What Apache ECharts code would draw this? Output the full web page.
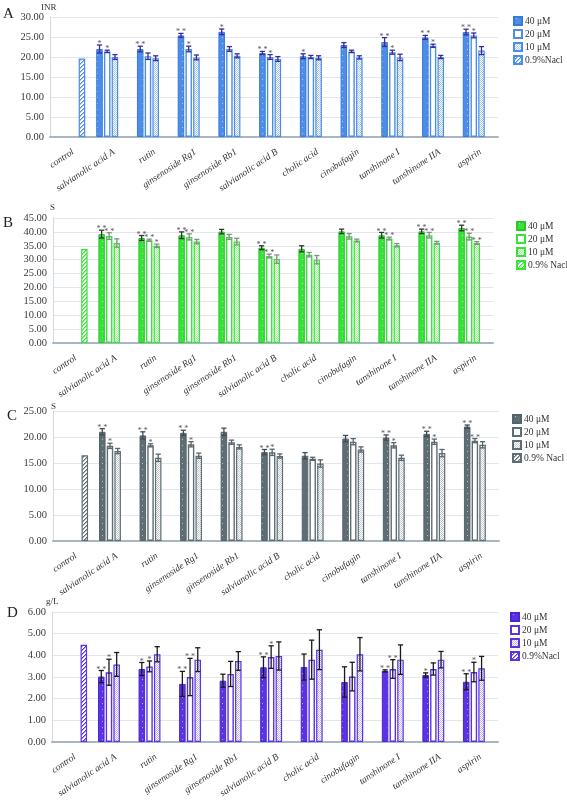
<!DOCTYPE html>
<html><head><meta charset="utf-8">
<script src="https://cdn.jsdelivr.net/npm/echarts@6/dist/echarts.min.js"></script>
<style>html,body{margin:0;padding:0;background:#fff}#c{width:567px;height:801px}</style>
</head><body><div id="c"></div>
<script>
const categories = ['control','salvianolic acid A','rutin','ginsenoside Rg1','ginsenoside Rb1','salvianolic acid B','cholic acid','cinobufagin','tanshinone I','tanshinone IIA','aspirin'];

// Panel A (INR)
const aMean40 = [null,22.0,22.0,25.4,26.3,21.0,20.2,23.0,23.75,24.9,26.25];
const aMean20 = [null,21.4,20.2,22.0,22.0,20.0,20.0,21.4,21.2,22.8,25.4];
const aMean10 = [null,20.0,19.7,19.9,20.3,19.5,19.8,19.9,19.9,20.0,21.6];
const aNacl   = [19.6,null,null,null,null,null,null,null,null,null,null];
const aErr40 = [null,1.0,0.7,0.5,0.7,0.4,0.6,0.6,1.1,0.5,0.7];
const aErr20 = [null,0.3,0.8,0.7,0.6,0.6,0.4,0.3,0.5,0.4,0.6];
const aErr10 = [null,0.6,0.6,0.6,0.5,0.6,0.5,0.4,0.8,0.4,1.0];
const aSig40 = ['','*','**','**','*','**','*','','**','**','**'];
const aSig20 = ['','*','','*','','*','','','*','*','*'];
const aSig10 = ['','','','','','','','','','',''];

// Panel B (S)
const bMean40 = [null,39.2,37.8,38.8,40.1,34.3,33.9,40.2,38.8,40.2,41.4];
const bMean20 = [null,38.5,37.0,38.2,38.2,31.3,31.8,38.4,37.6,38.8,38.3];
const bMean10 = [null,36.0,35.0,36.5,36.5,30.2,30.0,36.9,35.2,36.1,36.0];
const bNacl   = [33.8,null,null,null,null,null,null,null,null,null,null];
const bErr40 = [null,1.4,0.9,1.2,0.8,0.7,1.1,0.8,1.0,0.8,1.0];
const bErr20 = [null,1.2,0.4,1.1,0.9,0.7,0.8,1.0,0.5,1.0,1.2];
const bErr10 = [null,1.5,0.6,0.8,1.2,1.5,1.5,0.5,0.6,0.5,0.5];
const bSig40 = ['','**','**','**','','**','','','**','**','**'];
const bSig20 = ['','**','**','**','','**','','','**','**','**'];
const bSig10 = ['','','*','','','','','','','','**'];

// Panel C (S)
const cMean40 = [null,21.0,20.3,20.8,21.0,17.1,16.4,19.7,19.9,20.6,22.0];
const cMean20 = [null,18.3,18.4,18.6,19.0,17.05,15.8,19.1,18.4,19.1,19.3];
const cMean10 = [null,17.3,16.0,16.4,18.1,16.35,14.9,17.6,16.0,16.9,18.5];
const cNacl   = [16.5,null,null,null,null,null,null,null,null,null,null];
const cErr40 = [null,0.6,0.7,0.5,0.7,0.5,0.6,0.6,0.5,0.5,0.3];
const cErr20 = [null,0.5,0.3,0.5,0.4,0.6,0.3,0.6,0.5,0.5,0.4];
const cErr10 = [null,0.5,0.7,0.5,0.4,0.4,0.7,0.5,0.5,0.7,0.6];
const cSig40 = ['','**','**','**','','**','','','**','**','**'];
const cSig20 = ['','*','*','*','','*','','','*','*','**'];
const cSig10 = ['','','','','','','','','','',''];

// Panel D (g/L)
const dMean40 = [null,3.02,3.37,2.68,2.83,3.45,3.46,2.77,3.28,3.09,2.78];
const dMean20 = [null,3.22,3.49,3.00,3.14,3.92,3.80,3.02,3.37,3.37,3.23];
const dMean10 = [null,3.58,4.05,3.80,3.74,3.97,4.26,4.05,3.80,3.80,3.40];
const dNacl   = [4.49,null,null,null,null,null,null,null,null,null,null];
const dErr40 = [null,0.28,0.30,0.58,0.30,0.48,0.60,0.70,0.05,0.10,0.37];
const dErr20 = [null,0.60,0.25,0.86,0.58,0.52,0.90,0.66,0.43,0.28,0.45];
const dErr10 = [null,0.55,0.35,0.55,0.43,0.65,0.92,0.77,0.68,0.38,0.55];
const dSig40 = ['','**','*','**','','**','','','**','*','**'];
const dSig20 = ['','*','*','**','','*','','','**','','*'];
const dSig10 = ['','','','','','','','','','',''];

const legendA = ['40 μM','20 μM','10 μM','0.9%Nacl'];
const legendB = ['40 μM','20 μM','10 μM','0.9% Nacl'];
const legendC = ['40 μM','20 μM','10 μM','0.9% Nacl'];
const legendD = ['40 μM','20 μM','10 μM','0.9%Nacl'];

const BCG = 0.27, BG = 0.18;
const SERIF = '"Liberation Serif","DejaVu Serif",serif';

function pattern(type, fg, bg) {
  const c = document.createElement('canvas');
  let w = 4, h = 4;
  if (type === 'dots') { w = 5; h = 6; }
  c.width = w; c.height = h;
  const g = c.getContext('2d');
  g.fillStyle = bg; g.fillRect(0, 0, w, h);
  g.fillStyle = fg;
  if (type === 'dots') {
    g.fillRect(2, 1, 1, 1);
  } else if (type === 'checker') {
    g.fillRect(0, 0, 1, 1); g.fillRect(2, 0, 1, 1);
    g.fillRect(1, 1, 1, 1); g.fillRect(3, 1, 1, 1);
    g.fillRect(0, 2, 1, 1); g.fillRect(2, 2, 1, 1);
    g.fillRect(1, 3, 1, 1); g.fillRect(3, 3, 1, 1);
  } else if (type === 'diag') {
    for (let i = 0; i < 4; i++) { g.fillRect(i, 3 - i, 1, 1); }
    g.globalAlpha = 0.5;
    for (let i = 0; i < 4; i++) { g.fillRect((i + 1) % 4, 3 - i, 1, 1); }
  }
  return { image: c, repeat: 'repeat' };
}

const panels = [
  { key: 'A', m: [aMean40, aMean20, aMean10, aNacl], e: [aErr40, aErr20, aErr10], s: [aSig40, aSig20, aSig10], leg: legendA,
    max: 30, interval: 5, unit: 'INR', grid: { left: 50, top: 17, width: 448, height: 120 },
    main: '#4b8de8', border: '#3a79d6', light: '#a9c8f2', err: ['#3a2a9c', '#3a2a9c', '#3a2a9c'], legPos: [513, 16] },
  { key: 'B', m: [bMean40, bMean20, bMean10, bNacl], e: [bErr40, bErr20, bErr10], s: [bSig40, bSig20, bSig10], leg: legendB,
    max: 45, interval: 5, unit: 'S', grid: { left: 53, top: 218, width: 440, height: 125 },
    main: '#36e336', border: '#2cc62c', light: '#a0ef9c', err: ['#333333', '#8a8a8a', '#8a8a8a'], legPos: [516, 221] },
  { key: 'C', m: [cMean40, cMean20, cMean10, cNacl], e: [cErr40, cErr20, cErr10], s: [cSig40, cSig20, cSig10], leg: legendC,
    max: 25, interval: 5, unit: 'S', grid: { left: 53, top: 411, width: 446, height: 130 },
    main: '#5f6d74', border: '#55636a', light: '#c3cdd2', err: ['#444b4f', '#5a6469', '#5a6469'], legPos: [512, 414] },
  { key: 'D', m: [dMean40, dMean20, dMean10, dNacl], e: [dErr40, dErr20, dErr10], s: [dSig40, dSig20, dSig10], leg: legendD,
    max: 6, interval: 1, unit: 'g/L', grid: { left: 52, top: 612, width: 446, height: 130 },
    main: '#5b33e3', border: '#4a25d0', light: '#c2b2f7', err: ['#1a1a1a', '#1a1a1a', '#1a1a1a'], legPos: [510, 612] }
];

const grids = [], xAxes = [], yAxes = [], series = [], legends = [], graphics = [];

panels.forEach((p, pi) => {
  grids.push(p.grid);
  xAxes.push({
    type: 'category', gridIndex: pi, data: categories,
    axisLine: { lineStyle: { color: '#a8b6c3', width: 2 } },
    axisTick: { show: false },
    axisLabel: { interval: 0, rotate: 34, margin: 10, fontSize: 9.5, fontStyle: 'italic', fontFamily: SERIF, color: '#333', verticalAlign: 'top' }
  });
  yAxes.push({
    type: 'value', gridIndex: pi, min: 0, max: p.max, interval: p.interval,
    axisLine: { show: true, lineStyle: { color: '#d3dbe2', width: 1 } },
    axisTick: { show: false },
    splitLine: { lineStyle: { color: '#e0e7ed', width: 1 } },
    axisLabel: { fontSize: 10.5, fontFamily: SERIF, color: '#3a3a3a', margin: 6, formatter: v => v.toFixed(2) }
  });
  const styles = [
    { color: pattern('dots', 'rgba(255,255,255,0.55)', p.main), borderColor: p.border, borderWidth: 1 },
    { color: '#ffffff', borderColor: p.main, borderWidth: 1.4 },
    { color: pattern('checker', p.light, '#ffffff'), borderColor: p.main, borderWidth: 1.2 },
    { color: pattern('diag', p.main, '#ffffff'), borderColor: p.main, borderWidth: 1.2 }
  ];
  const names = p.leg.map((l, k) => p.key + '|' + k + '|' + l);
  for (let k = 0; k < 4; k++) {
    series.push({
      type: 'bar', name: names[k], xAxisIndex: pi, yAxisIndex: pi,
      data: p.m[k], barCategoryGap: (BCG * 100) + '%', barGap: (BG * 100) + '%',
      itemStyle: styles[k], silent: true
    });
  }
  for (let k = 0; k < 3; k++) {
    const means = p.m[k], errs = p.e[k], sigs = p.s[k], col = p.err[k];
    const data = [];
    means.forEach((v, i) => { if (v != null) data.push([i, v, errs[i]]); });
    series.push({
      type: 'custom', xAxisIndex: pi, yAxisIndex: pi, z: 10, silent: true, data,
      renderItem: (params, api) => {
        const ci = api.value(0), m = api.value(1), e = api.value(2);
        const catW = api.size([1, 0])[0];
        const bw = catW * (1 - BCG) / (4 + 3 * BG);
        const cx = api.coord([ci, m])[0] + (k - 1.5) * bw * (1 + BG);
        const yt = api.coord([ci, m + e])[1], yb = api.coord([ci, m - e])[1];
        const hw = 2.6;
        const ls = { stroke: col, lineWidth: 1.3 };
        const children = [
          { type: 'line', shape: { x1: cx, y1: yt, x2: cx, y2: yb }, style: ls },
          { type: 'line', shape: { x1: cx - hw, y1: yt, x2: cx + hw, y2: yt }, style: ls },
          { type: 'line', shape: { x1: cx - hw, y1: yb, x2: cx + hw, y2: yb }, style: ls }
        ];
        const s = sigs[ci];
        if (s) children.push({ type: 'text', x: cx, y: yt + 3, style: { text: s.split('').join(' '), fontSize: 8, fontFamily: SERIF, fill: '#555', align: 'center', verticalAlign: 'bottom' } });
        return { type: 'group', children };
      }
    });
  }
  legends.push({
    data: names, orient: 'vertical', left: p.legPos[0], top: p.legPos[1], padding: 0,
    icon: 'rect', itemWidth: 8, itemHeight: 8, itemGap: 3,
    textStyle: { fontFamily: SERIF, fontSize: 9.5, color: '#333', lineHeight: 10, padding: [0, 0, 0, -2] },
    formatter: n => n.split('|')[2], selectedMode: false
  });
  graphics.push({ type: 'text', left: [3, 3, 7, 7][pi], top: [p.grid.top - 10, p.grid.top - 2, p.grid.top - 2, p.grid.top - 6][pi], style: { text: p.key, fontSize: 15, fontFamily: SERIF, fill: '#222' } });
  graphics.push({ type: 'text', left: [41, 50, 51, 46][pi], top: p.grid.top - [14, 15, 9, 15][pi], style: { text: p.unit, fontSize: 9, fontFamily: SERIF, fill: '#333' } });
});

const chart = echarts.init(document.getElementById('c'), null, { renderer: 'canvas' });
chart.setOption({
  animation: false, backgroundColor: '#fff',
  grid: grids, xAxis: xAxes, yAxis: yAxes, series, legend: legends, graphic: graphics
});
</script></body></html>
